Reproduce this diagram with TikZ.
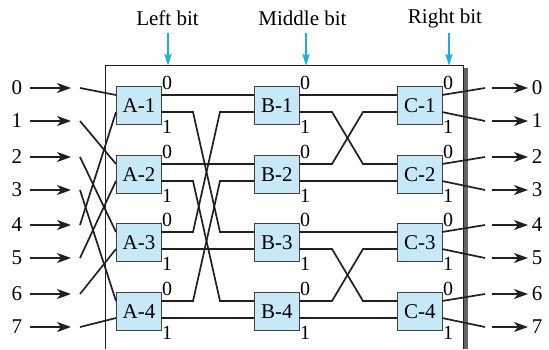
\documentclass[tikz,border=0pt]{standalone}
\usepackage{fontspec}
\setmainfont{Liberation Serif}
\usetikzlibrary{arrows.meta,calc}
\definecolor{boxblue}{HTML}{C6E8F7}
\definecolor{arrowblue}{HTML}{1AAEE8}
\definecolor{ink}{HTML}{231F20}
\newcommand\swnode[4]{%
  \node[swbox] (#1) at (#2,#3) {#4};
  \coordinate (#1p0) at (#2,#3+9);
  \coordinate (#1p1) at (#2,#3+26);
  \coordinate (#1q0) at (#2+45,#3+9);
  \coordinate (#1q1) at (#2+45,#3+26);
  \node[portlbl] (#1l0) at (#2+51,#3-3.5) {0};
  \node[portlbl] (#1l1) at (#2+51,#3+41) {1};
}
\begin{document}
\begin{tikzpicture}[x=1pt,y=-1pt, font=\fontsize{21}{25}\selectfont,
  wire/.style={ink, line width=1.7pt, line join=miter},
  swbox/.style={draw=ink!85, line width=0.9pt, fill=boxblue, minimum width=45pt, minimum height=37.5pt, inner sep=0pt, anchor=north west},
  portlbl/.style={inner sep=0pt, font=\fontsize{20}{24}\selectfont},
  lbl/.style={inner sep=0pt},
  arr/.style={ink, line width=1.7pt, -{Stealth[length=14pt,width=10pt,inset=4pt]}},
  barr/.style={arrowblue, line width=1.9pt, -{Stealth[length=12pt,width=7pt,inset=2pt]}},
  frame/.style={ink, line width=0.9pt},
  shadow/.style={black!60, line width=3.5pt},
]
\useasboundingbox (0,0) rectangle (549,349);

% frame
\coordinate (fbl) at (105,349);
\coordinate (ftl) at (105,65);
\coordinate (ftr) at (463,65);
\coordinate (fbr) at (463,349);
\coordinate (sht) at (466,67.5);
\coordinate (shb) at (466,349);
\draw[shadow] (sht) -- (shb);
\draw[frame] (fbl) -- (ftl) -- (ftr) -- (fbr);

% bit labels and blue arrows
\node[lbl] (lbit) at (167.5,18.5) {Left bit};
\node[lbl] (mbit) at (302.5,18.5) {Middle bit};
\node[lbl] (rbit) at (445,18.5) {Right bit};
\coordinate (la) at (168,33); \coordinate (lb) at (168,66);
\coordinate (ma) at (306,33); \coordinate (mb) at (306,66);
\coordinate (ra) at (449,33); \coordinate (rb) at (449,66);
\draw[barr] (la) -- (lb);
\draw[barr] (ma) -- (mb);
\draw[barr] (ra) -- (rb);

% switch boxes
\foreach \r/\t in {1/86, 2/155, 3/223, 4/292} {
  \swnode{A\r}{116}{\t}{A-\r}
  \swnode{B\r}{254}{\t}{B-\r}
  \swnode{C\r}{397}{\t}{C-\r}
}

% inputs and outputs
\foreach \i/\y in {0/88, 1/121, 2/157, 3/190, 4/225, 5/258, 6/294, 7/327} {
  \node[lbl] (inl\i) at (17,\y) {\i};
  \coordinate (ina\i) at (30,\y);
  \coordinate (inb\i) at (71,\y);
  \coordinate (inw\i) at (80,\y);
  \draw[arr] (ina\i) -- (inb\i);
  \node[lbl] (outl\i) at (537,\y) {\i};
  \coordinate (outa\i) at (492,\y);
  \coordinate (outb\i) at (528,\y);
  \coordinate (outw\i) at (485,\y);
  \draw[arr] (outa\i) -- (outb\i);
}

% input shuffle
\draw[wire] (inw0) -- (A1p0);
\draw[wire] (inw1) -- (A2p0);
\draw[wire] (inw2) -- (A3p0);
\draw[wire] (inw3) -- (A4p0);
\draw[wire] (inw4) -- (A1p1);
\draw[wire] (inw5) -- (A2p1);
\draw[wire] (inw6) -- (A3p1);
\draw[wire] (inw7) -- (A4p1);

% stage A -> B
\draw[wire] (A1q0) -- (B1p0);
\draw[wire] (A2q0) -- (B2p0);
\draw[wire] (A3q1) -- (B3p1);
\draw[wire] (A4q1) -- (B4p1);
\draw[wire] (A1q1) -- ++(32,0) -- ($(B3p0)+(-34,0)$) -- (B3p0);
\draw[wire] (A3q0) -- ++(32,0) -- ($(B1p1)+(-34,0)$) -- (B1p1);
\draw[wire] (A2q1) -- ++(32,0) -- ($(B4p0)+(-34,0)$) -- (B4p0);
\draw[wire] (A4q0) -- ++(32,0) -- ($(B2p1)+(-34,0)$) -- (B2p1);

% stage B -> C
\draw[wire] (B1q0) -- (C1p0);
\draw[wire] (B2q1) -- (C2p1);
\draw[wire] (B3q0) -- (C3p0);
\draw[wire] (B4q1) -- (C4p1);
\draw[wire] (B1q1) -- ++(33,0) -- ($(C2p0)+(-34,0)$) -- (C2p0);
\draw[wire] (B2q0) -- ++(33,0) -- ($(C1p1)+(-34,0)$) -- (C1p1);
\draw[wire] (B3q1) -- ++(33,0) -- ($(C4p0)+(-34,0)$) -- (C4p0);
\draw[wire] (B4q0) -- ++(33,0) -- ($(C3p1)+(-34,0)$) -- (C3p1);

% outputs
\draw[wire] (C1q0) -- (outw0);
\draw[wire] (C1q1) -- (outw1);
\draw[wire] (C2q0) -- (outw2);
\draw[wire] (C2q1) -- (outw3);
\draw[wire] (C3q0) -- (outw4);
\draw[wire] (C3q1) -- (outw5);
\draw[wire] (C4q0) -- (outw6);
\draw[wire] (C4q1) -- (outw7);
\end{tikzpicture}
\end{document}
